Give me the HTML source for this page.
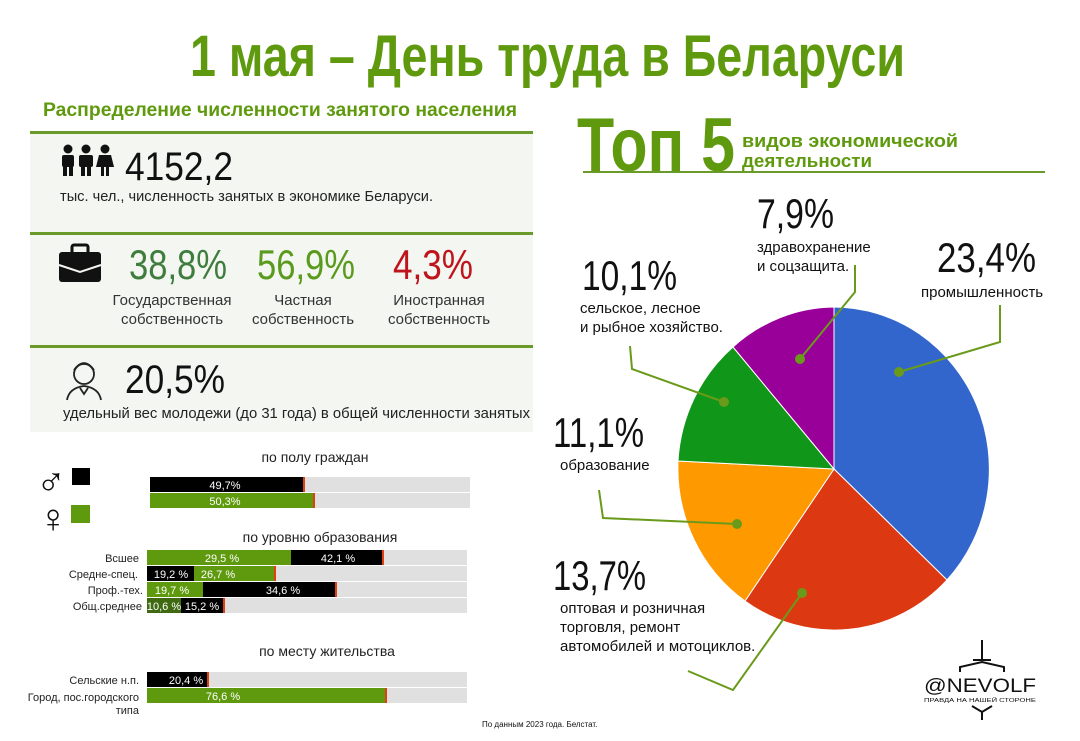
<!DOCTYPE html>
<html><head><meta charset="utf-8"><style>
html,body{margin:0;padding:0;background:#fff}
svg{display:block}
text{font-family:"Liberation Sans","DejaVu Sans",sans-serif}
</style></head><body>
<svg width="1080" height="741" viewBox="0 0 1080 741" xmlns="http://www.w3.org/2000/svg">
<rect width="1080" height="741" fill="#fff"/>
<text x="190" y="76" font-size="58" font-weight="bold" fill="#5f9a0e" textLength="715" lengthAdjust="spacingAndGlyphs">1 мая – День труда в Беларуси</text>
<text x="43" y="116" font-size="19" font-weight="bold" fill="#5f9a0e" textLength="474" lengthAdjust="spacingAndGlyphs">Распределение численности занятого населения</text>
<rect x="30" y="132" width="503" height="300" fill="#f3f6f1"/>
<rect x="30" y="131" width="503" height="3" fill="#6a9a2a"/>
<rect x="30" y="232" width="503" height="3" fill="#6a9a2a"/>
<rect x="30" y="345" width="503" height="3" fill="#6a9a2a"/>
<g fill="#111">
<circle cx="68" cy="149" r="4.5"/><rect x="62" y="155" width="12" height="12" rx="2"/><rect x="63" y="165" width="4" height="11"/><rect x="69" y="165" width="4" height="11"/>
<circle cx="86" cy="149" r="4.5"/><rect x="79" y="155" width="14" height="12" rx="2"/><rect x="81" y="165" width="4" height="11"/><rect x="87" y="165" width="4" height="11"/>
<circle cx="105" cy="149" r="4.5"/><path d="M99 155h12l3 12h-18z"/><rect x="101" y="165" width="3" height="11"/><rect x="106" y="165" width="3" height="11"/>
</g>
<text x="125" y="180" font-size="40" fill="#111" textLength="108" lengthAdjust="spacingAndGlyphs">4152,2</text>
<text x="60" y="201" font-size="15" fill="#222" textLength="373" lengthAdjust="spacingAndGlyphs">тыс. чел., численность занятых в экономике Беларуси.</text>
<rect x="59" y="252" width="42" height="30" rx="3" fill="#111"/>
<rect x="72" y="245" width="16" height="9" rx="2" fill="none" stroke="#111" stroke-width="3"/>
<path d="M59 265 L80 272 L101 265" stroke="#f3f6f1" stroke-width="2" fill="none"/>
<text x="178" y="279" font-size="42" fill="#3e7d3e" text-anchor="middle" textLength="98" lengthAdjust="spacingAndGlyphs">38,8%</text>
<text x="306" y="279" font-size="42" fill="#5a9a1c" text-anchor="middle" textLength="98" lengthAdjust="spacingAndGlyphs">56,9%</text>
<text x="433" y="279" font-size="42" fill="#c0141c" text-anchor="middle" textLength="80" lengthAdjust="spacingAndGlyphs">4,3%</text>
<g font-size="15" fill="#333" text-anchor="middle">
<text x="172" y="305">Государственная</text><text x="172" y="324">собственность</text>
<text x="303" y="305">Частная</text><text x="303" y="324">собственность</text>
<text x="439" y="305">Иностранная</text><text x="439" y="324">собственность</text>
</g>
<g fill="none" stroke="#222" stroke-width="1.8">
<circle cx="84" cy="374" r="10"/><path d="M74 370 q10 -14 20 0"/><path d="M67 400 q2 -12 17 -14 q15 2 17 14"/><path d="M80 388 l4 6 l4 -6"/>
</g>
<text x="125" y="393" font-size="40" fill="#111" textLength="100" lengthAdjust="spacingAndGlyphs">20,5%</text>
<text x="63" y="418" font-size="15" fill="#222" textLength="467" lengthAdjust="spacingAndGlyphs">удельный вес молодежи (до 31 года) в общей численности занятых</text>
<text x="315" y="462" font-size="14" fill="#222" text-anchor="middle">по полу граждан</text>
<text x="36" y="494" font-size="40" font-weight="bold" fill="#111">♂</text>
<rect x="72" y="468" width="18" height="17" fill="#000"/>
<text x="38" y="532" font-size="40" font-weight="bold" fill="#111">♀</text>
<rect x="71" y="505" width="19" height="18" fill="#5f9a0e"/>
<g font-size="11" fill="#fff" text-anchor="middle">
<rect x="150" y="477" width="320" height="15" fill="#e0e0e0"/><rect x="150" y="477" width="153" height="15" fill="#000"/><rect x="303" y="477" width="2" height="15" fill="#e04010"/>
<text x="225" y="489">49,7%</text>
<rect x="150" y="493" width="320" height="15" fill="#e0e0e0"/><rect x="150" y="493" width="163" height="15" fill="#5f9a0e"/><rect x="313" y="493" width="2" height="15" fill="#e04010"/>
<text x="225" y="505">50,3%</text>
</g>
<text x="320" y="542" font-size="14" fill="#222" text-anchor="middle">по уровню образования</text>
<g font-size="11" fill="#222" text-anchor="end">
<text x="139" y="562">Всшее</text><text x="138" y="578">Средне-спец.</text><text x="143" y="594">Проф.-тех.</text><text x="142" y="610">Общ.среднее</text>
</g>
<g fill="#e0e0e0"><rect x="147" y="550" width="320" height="15"/><rect x="147" y="566" width="320" height="15"/><rect x="147" y="582" width="320" height="15"/><rect x="147" y="598" width="320" height="15"/></g>
<rect x="147" y="550" width="144" height="15" fill="#5f9a0e"/><rect x="291" y="550" width="91" height="15" fill="#000"/><rect x="382" y="550" width="2" height="15" fill="#e04010"/>
<rect x="147" y="566" width="47" height="15" fill="#000"/><rect x="194" y="566" width="80" height="15" fill="#5f9a0e"/><rect x="274" y="566" width="2" height="15" fill="#e04010"/>
<rect x="147" y="582" width="56" height="15" fill="#5f9a0e"/><rect x="203" y="582" width="132" height="15" fill="#000"/><rect x="335" y="582" width="2" height="15" fill="#e04010"/>
<rect x="147" y="598" width="34" height="15" fill="#3f6a12"/><rect x="181" y="598" width="42" height="15" fill="#000"/><rect x="223" y="598" width="2" height="15" fill="#e04010"/>
<g font-size="11" fill="#fff" text-anchor="middle">
<text x="222" y="562">29,5 %</text><text x="338" y="562">42,1 %</text>
<text x="171" y="578">19,2 %</text><text x="218" y="578">26,7 %</text>
<text x="172" y="594">19,7 %</text><text x="283" y="594">34,6 %</text>
<text x="164" y="610">10,6 %</text><text x="202" y="610">15,2 %</text>
</g>
<text x="327" y="656" font-size="14" fill="#222" text-anchor="middle">по месту жительства</text>
<g font-size="11" fill="#222" text-anchor="end">
<text x="139" y="684">Сельские н.п.</text><text x="139" y="701">Город, пос.городского</text><text x="139" y="714">типа</text>
</g>
<rect x="147" y="672" width="320" height="15" fill="#e0e0e0"/><rect x="147" y="672" width="60" height="15" fill="#000"/><rect x="207" y="672" width="2" height="15" fill="#e04010"/>
<rect x="147" y="688" width="320" height="15" fill="#e0e0e0"/><rect x="147" y="688" width="238" height="15" fill="#5f9a0e"/><rect x="385" y="688" width="2" height="15" fill="#e04010"/>
<g font-size="11" fill="#fff" text-anchor="middle"><text x="186" y="684">20,4 %</text><text x="223" y="700">76,6 %</text></g>
<text x="482" y="727" font-size="8" fill="#111">По данным 2023 года. Белстат.</text>
<text x="577" y="171" font-size="76" font-weight="bold" fill="#5f9a0e" textLength="158" lengthAdjust="spacingAndGlyphs">Топ 5</text>
<text x="742" y="147" font-size="18" font-weight="bold" fill="#5f9a0e" textLength="216" lengthAdjust="spacingAndGlyphs">видов экономической</text>
<text x="742" y="167" font-size="18" font-weight="bold" fill="#5f9a0e" textLength="130" lengthAdjust="spacingAndGlyphs">деятельности</text>
<rect x="583" y="171" width="462" height="2" fill="#6a9a2a"/>
<g stroke="#fff" stroke-width="1">
<path d="M834 469 L834 307 A156 162 0 0 1 947 580 Z" fill="#3366cc"/>
<path d="M834 469 L947 580 A156 162 0 0 1 745 601 Z" fill="#dc3912"/>
<path d="M834 469 L745 601 A156 162 0 0 1 678 461 Z" fill="#ff9900"/>
<path d="M834 469 L678 461 A156 162 0 0 1 733 347 Z" fill="#109618"/>
<path d="M834 469 L733 347 A156 162 0 0 1 834 307 Z" fill="#990099"/>
</g>
<g stroke="#6a9a1a" stroke-width="2" fill="none">
<polyline points="1000,305 1000,342 899,372"/>
<polyline points="855,265 855,292 800,359"/>
<polyline points="630,346 632,369 724,402"/>
<polyline points="599,490 603,518 737,524"/>
<polyline points="802,593 733,690 688,671"/>
</g>
<g fill="#6a9a1a"><circle cx="899" cy="372" r="5"/><circle cx="800" cy="359" r="5"/><circle cx="724" cy="402" r="5"/><circle cx="737" cy="524" r="5"/><circle cx="802" cy="593" r="5"/></g>
<g fill="#111">
<text x="937" y="272" font-size="42" textLength="99" lengthAdjust="spacingAndGlyphs">23,4%</text>
<text x="921" y="297" font-size="15">промышленность</text>
<text x="757" y="228" font-size="42" textLength="77" lengthAdjust="spacingAndGlyphs">7,9%</text>
<text x="757" y="252" font-size="15">здравохранение</text>
<text x="757" y="271" font-size="15">и соцзащита.</text>
<text x="582" y="290" font-size="42" textLength="95" lengthAdjust="spacingAndGlyphs">10,1%</text>
<text x="580" y="313" font-size="15">сельское, лесное</text>
<text x="580" y="332" font-size="15">и рыбное хозяйство.</text>
<text x="553" y="447" font-size="42" textLength="91" lengthAdjust="spacingAndGlyphs">11,1%</text>
<text x="560" y="470" font-size="15">образование</text>
<text x="553" y="590" font-size="42" textLength="93" lengthAdjust="spacingAndGlyphs">13,7%</text>
<text x="560" y="613" font-size="15">оптовая и розничная</text>
<text x="560" y="632" font-size="15">торговля, ремонт</text>
<text x="560" y="651" font-size="15">автомобилей и мотоциклов.</text>
</g>
<g stroke="#111" stroke-width="2" fill="none">
<line x1="982" y1="640" x2="982" y2="660"/><line x1="973" y1="660" x2="991" y2="660"/>
<polyline points="960,672 960,667 982,662 1004,667 1004,672"/>
<polyline points="972,706 982,712 992,706"/><line x1="982" y1="712" x2="982" y2="720"/>
</g>
<text x="924" y="692" font-size="19" fill="#111" textLength="112" lengthAdjust="spacingAndGlyphs">@NEVOLF</text>
<text x="924" y="702" font-size="5" fill="#111" textLength="112" lengthAdjust="spacingAndGlyphs">ПРАВДА НА НАШЕЙ СТОРОНЕ</text>
</svg>
</body></html>
